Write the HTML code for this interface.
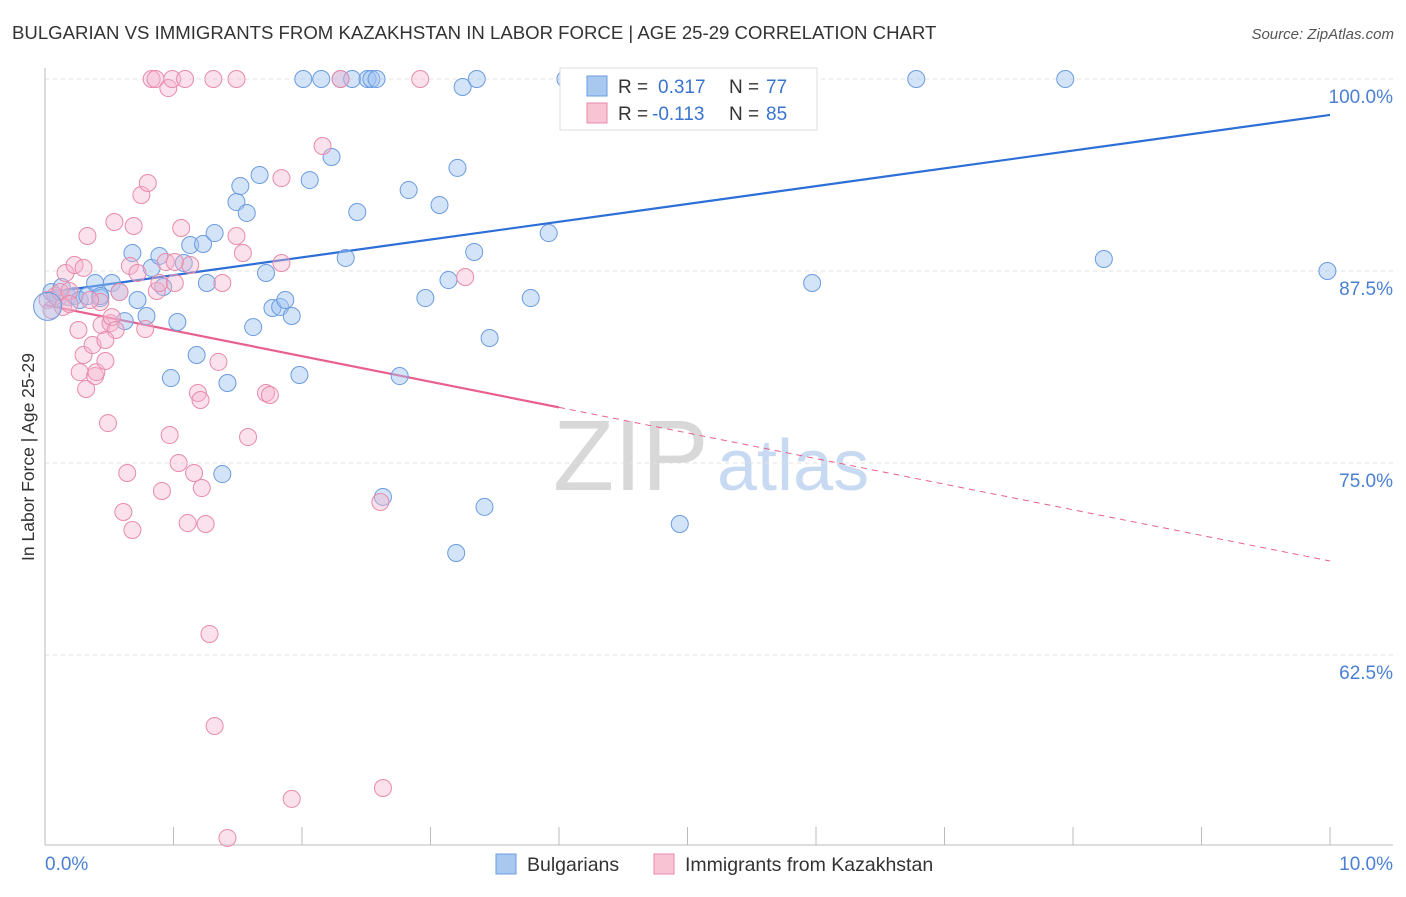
<!DOCTYPE html>
<html><head><meta charset="utf-8"><style>
body{margin:0;background:#fff;font-family:"Liberation Sans",sans-serif;}
svg text{font-family:"Liberation Sans",sans-serif;}
</style></head><body>
<svg id="chart" width="1406" height="892" xmlns="http://www.w3.org/2000/svg">
<text x="12" y="39" font-size="18.6" fill="#333">BULGARIAN VS IMMIGRANTS FROM KAZAKHSTAN IN LABOR FORCE | AGE 25-29 CORRELATION CHART</text>
<text x="1394" y="39" font-size="15" fill="#555" font-style="italic" text-anchor="end">Source: ZipAtlas.com</text>
<text transform="translate(34,457) rotate(-90)" font-size="17.5" fill="#333" text-anchor="middle">In Labor Force | Age 25-29</text>
<g>
<text x="553" y="490" font-size="100" fill="#d8d8d8" font-family="Liberation Serif,serif">ZIP</text>
<text x="717" y="490" font-size="72" fill="#c8daf2">atlas</text>
</g>
<g id="grid"></g><g id="axes"></g><g id="lines"></g><g id="pts"></g>
<g>
<rect x="560" y="68" width="257" height="62" fill="#fff" stroke="#ddd"/>
<rect x="587" y="76" width="20" height="20" fill="#a8c8f0" stroke="#6a9be0"/>
<text x="618" y="93" font-size="19" fill="#333">R = </text><text x="658" y="93" font-size="19" fill="#3a74d0">0.317</text>
<text x="729" y="93" font-size="19" fill="#333">N = </text><text x="766" y="93" font-size="19" fill="#3a74d0">77</text>
<rect x="587" y="103" width="20" height="20" fill="#f8c4d4" stroke="#e88aaa"/>
<text x="618" y="120" font-size="19" fill="#333">R = </text><text x="652" y="120" font-size="19" fill="#3a74d0">-0.113</text>
<text x="729" y="120" font-size="19" fill="#333">N = </text><text x="766" y="120" font-size="19" fill="#3a74d0">85</text>
</g>
<g>
<rect x="496" y="854" width="20" height="20" fill="#a8c8f0" stroke="#6a9be0"/>
<text x="527" y="871" font-size="19.5" fill="#333">Bulgarians</text>
<rect x="654" y="854" width="20" height="20" fill="#f8c4d4" stroke="#e88aaa"/>
<text x="685" y="871" font-size="19.5" fill="#333">Immigrants from Kazakhstan</text>
</g>
</svg>
<script>
const xTicks=[0,1,2,3,4,5,6,7,8,9,10];
const yTicks=[100,87.5,75,62.5];
const yTickLabels=["100.0%","87.5%","75.0%","62.5%"];
const blueX=[0.05,0.10,0.13,0.18,0.23,0.27,0.33,0.39,0.43,0.52,0.58,0.62,0.68,0.72,0.79,0.83,0.89,0.92,0.98,1.03,1.08,1.13,1.18,1.23,1.26,1.32,1.38,1.42,1.49,1.52,1.57,1.62,1.67,1.72,1.77,1.83,1.87,1.92,1.98,2.01,2.06,2.15,2.23,2.30,2.34,2.39,2.43,2.51,2.54,2.58,2.63,2.76,2.83,2.96,3.07,3.14,3.20,3.21,3.25,3.34,3.36,3.42,3.46,3.78,3.92,4.05,4.61,4.94,5.42,5.97,6.78,7.94,8.24,9.98,0.43];
const blueY=[86.13,85.74,86.46,85.81,85.87,85.61,85.87,86.72,85.74,86.72,86.13,84.24,88.67,85.61,84.57,87.70,88.48,86.46,80.53,84.18,88.02,89.19,82.03,89.26,86.72,89.97,74.28,80.21,91.99,93.03,91.28,83.85,93.75,87.37,85.09,85.16,85.61,84.57,80.73,100,93.42,100,94.92,100,88.35,100,91.34,100,100,100,72.79,80.66,92.77,85.74,91.80,86.91,69.14,94.21,99.48,88.74,100,72.14,83.14,85.74,89.97,100,100,71.03,100,86.72,100,100,88.28,87.50,85.87];
const pinkX=[0.02,0.05,0.08,0.12,0.14,0.16,0.19,0.23,0.26,0.27,0.30,0.32,0.33,0.37,0.39,0.40,0.43,0.44,0.47,0.49,0.51,0.52,0.54,0.55,0.58,0.61,0.64,0.66,0.68,0.69,0.72,0.75,0.78,0.80,0.83,0.86,0.87,0.89,0.91,0.94,0.96,0.97,0.99,1.01,1.04,1.06,1.09,1.11,1.13,1.16,1.19,1.21,1.22,1.25,1.28,1.31,1.32,1.35,1.38,1.42,1.49,1.49,1.54,1.58,1.72,1.75,1.84,1.84,1.92,2.16,2.30,2.63,2.61,2.92,3.27,1.01,0.30,0.19,0.35,0.47];
const pinkY=[85.61,84.96,85.87,86.13,85.16,87.37,86.20,87.89,83.66,80.92,82.03,79.82,89.78,82.68,80.66,80.92,85.48,83.98,81.64,77.60,84.11,84.50,90.69,83.66,86.13,71.81,74.35,87.83,70.64,90.43,87.37,92.45,83.72,93.23,100,100,86.20,86.72,73.18,88.09,99.41,76.82,100,86.72,75.00,90.30,100,71.09,87.89,74.35,79.56,79.10,73.37,71.03,63.87,100,57.88,81.58,86.72,50.59,89.78,100,88.67,76.69,79.56,79.43,93.55,88.02,53.13,95.64,100,53.84,72.46,100,87.11,88.09,87.70,85.35,85.61,83.01];
const blueTrend=[86.07,97.66];
const pinkTrend=[85.29,68.62];
const pinkSolidEnd=4.0;

const NS="http://www.w3.org/2000/svg";
const X0=45,X1=1330,Y100=79,PXPER=15.36;
const xs=v=>X0+v*(X1-X0)/10;
const ys=v=>Y100+(100-v)*PXPER;
function mk(tag,attrs,parent){const e=document.createElementNS(NS,tag);for(const k in attrs)e.setAttribute(k,attrs[k]);document.getElementById(parent).appendChild(e);return e;}

yTicks.forEach((t,i)=>{
 const g=mk('line',{x1:X0,x2:1393,y1:ys(t),y2:ys(t),stroke:'#e2e2e2','stroke-dasharray':'4,4'},'grid');
 
 
 const l=mk('text',{x:1393,y:ys(t)+24,'font-size':19,fill:'#4a7fd4','text-anchor':'end'},'grid');
 l.textContent=yTickLabels[i];
 
 
});
const ax=mk('line',{x1:X0,x2:1393,y1:845,y2:845,stroke:'#bbb'},'axes');


const ay=mk('line',{x1:X0,x2:X0,y1:68,y2:845,stroke:'#bbb'},'axes');


xTicks.forEach(t=>{
 const k=mk('line',{x1:xs(t),x2:xs(t),y1:827,y2:845,stroke:'#bbb'},'axes');
 
 
});
const xl0=mk('text',{x:45,y:870,'font-size':19,fill:'#4a7fd4'},'axes');xl0.textContent='0.0%';


const xl1=mk('text',{x:1393,y:870,'font-size':19,fill:'#4a7fd4','text-anchor':'end'},'axes');xl1.textContent='10.0%';



blueX.forEach((v,i)=>{
 const c=mk('circle',{cx:xs(v),cy:ys(blueY[i]),r:8.5,fill:'rgba(160,195,240,0.45)',stroke:'#6a9be0','stroke-width':1},'pts');
 
 
});
pinkX.forEach((v,i)=>{
 const c=mk('circle',{cx:xs(v),cy:ys(pinkY[i]),r:8.5,fill:'rgba(245,180,205,0.4)',stroke:'#e88aaa','stroke-width':1},'pts');
 
 
});
const big=mk('circle',{cx:xs(0.02),cy:ys(85.2),r:14,fill:'rgba(160,195,240,0.4)',stroke:'#6a9be0'},'pts');



const bl=mk('line',{x1:xs(0),y1:ys(blueTrend[0]),x2:xs(10),y2:ys(blueTrend[1]),stroke:'#2d6fd6','stroke-width':2.2},'lines');


const pAt=v=>pinkTrend[0]+(pinkTrend[1]-pinkTrend[0])*v/10;
const pl=mk('line',{x1:xs(0),y1:ys(pinkTrend[0]),x2:xs(pinkSolidEnd),y2:ys(pAt(pinkSolidEnd)),stroke:'#e8608e','stroke-width':2.2},'lines');


const pd=mk('line',{x1:xs(pinkSolidEnd),y1:ys(pAt(pinkSolidEnd)),x2:xs(10),y2:ys(pinkTrend[1]),stroke:'#e8608e','stroke-width':1,'stroke-dasharray':'6,5'},'lines');


</script>
</body></html>
